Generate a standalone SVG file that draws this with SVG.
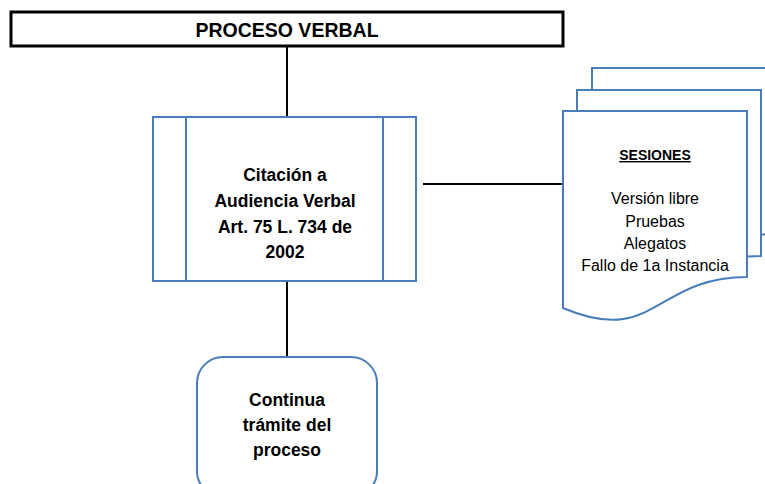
<svg xmlns="http://www.w3.org/2000/svg" width="765" height="484" viewBox="0 0 765 484">
<style>
.bx{fill:#fff;stroke:#4a7ebb;stroke-width:2}
.ln{stroke:#000;stroke-width:2;fill:none}
.t{font-family:"Liberation Sans",Arial,sans-serif;font-size:16px;fill:#000;text-anchor:middle}
.b{font-weight:bold;font-size:17.5px}
</style>
<defs>
<path id="doc" d="M0,0 H184 V166 C92,166 92,236 0,197 Z"/>
</defs>
<g id="connectors">
<line class="ln" x1="287" y1="46" x2="287" y2="117"/>
<line class="ln" x1="287" y1="281" x2="287" y2="357"/>
<line class="ln" x1="423" y1="184" x2="563" y2="184"/>
</g>
<g id="title">
<rect x="11" y="12" width="552" height="34" fill="#fff" stroke="#000" stroke-width="3"/>
<text class="t b" x="287" y="37" style="font-size:19.5px">PROCESO VERBAL</text>
</g>
<g id="citacion">
<rect class="bx" x="153" y="117" width="263" height="164"/>
<line class="bx" x1="186" y1="117" x2="186" y2="281"/>
<line class="bx" x1="383" y1="117" x2="383" y2="281"/>
<text class="t b" x="285" y="181">Citación a</text>
<text class="t b" x="285" y="207">Audiencia Verbal</text>
<text class="t b" x="285" y="233">Art. 75 L. 734 de</text>
<text class="t b" x="285" y="258">2002</text>
</g>
<g id="continua">
<rect class="bx" x="197" y="357" width="180" height="140" rx="26"/>
<text class="t b" x="287" y="406">Continua</text>
<text class="t b" x="287" y="431">trámite del</text>
<text class="t b" x="287" y="456">proceso</text>
</g>
<g id="sesiones">
<use href="#doc" class="bx" x="592" y="68"/>
<use href="#doc" class="bx" x="577" y="90"/>
<use href="#doc" class="bx" x="563" y="111"/>
<text class="t b" x="655" y="160" text-decoration="underline" style="font-size:14px">SESIONES</text>
<text class="t" x="655" y="204">Versión libre</text>
<text class="t" x="655" y="227">Pruebas</text>
<text class="t" x="655" y="249">Alegatos</text>
<text class="t" x="655" y="271">Fallo de 1a Instancia</text>
</g>
</svg>
